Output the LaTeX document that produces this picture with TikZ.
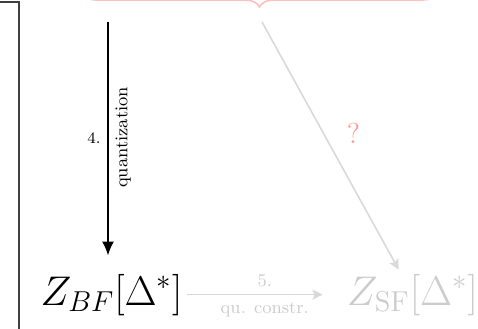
\documentclass[tikz,border=0pt]{standalone}
\usepackage{amsmath,amssymb}
\usetikzlibrary{arrows.meta,decorations.pathreplacing}
\tikzset{>=Stealth,every node/.style={font=\small},flow/.style={thick,-{Latex[length=7pt,width=6pt]}},faded/.style={black!20},fadedflow/.style={thick,black!15,-{Stealth[length=5pt,width=5pt,inset=1pt]}},space/.style={font=\huge,inner sep=2pt,anchor=base}}

\begin{document}
\begin{tikzpicture}[x=.5pt,y=-.5pt]
\clip (0,0) rectangle (478,328);
\draw[black!75,semithick] (-40,2) rectangle (19,400);
\draw[decorate,decoration={brace,amplitude=7pt},thick,red!25] (437,-7) -- (82,-7);
\node[space] (bf) at (111.5,305) {$Z_{BF}[\Delta^*]$};\node[space,faded] (sf) at (412.5,305) {$Z_{\mathrm{SF}}[\Delta^*]$};
\coordinate (q) at (108,22);\coordinate (p) at (262,22);
\draw[flow,shorten >=7pt] (q) -- (q |- bf.north) node[pos=.45,rotate=90,anchor=north,xshift=-2pt]{quantization} node[pos=.47,left,font=\footnotesize]{4.};
\draw[fadedflow,shorten >=10pt] (bf) -- (sf) node[midway,above,faded,font=\small]{5.} node[midway,below,faded,font=\small]{qu. constr.};
\draw[thick,black!15,-{Stealth[length=5pt,width=5pt,inset=1pt,fill=red!20]}] (p) -- (sf) node[pos=.45,right=8pt,red!40,font=\Large]{?};
\end{tikzpicture}
\end{document}
